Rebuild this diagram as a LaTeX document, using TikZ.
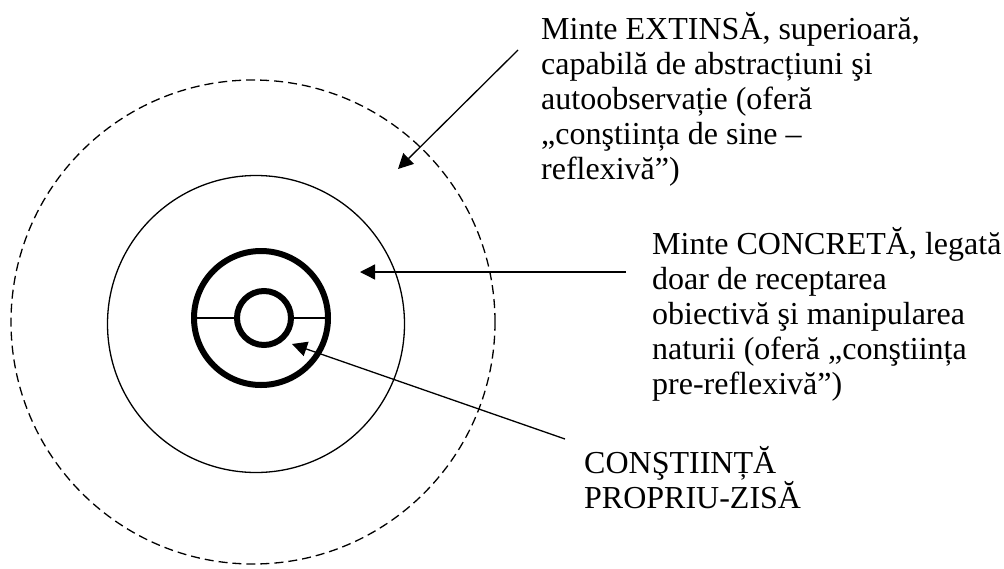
\documentclass[tikz,border=0pt]{standalone}
\usepackage{fontspec}
\setmainfont{Liberation Serif}
\usetikzlibrary{arrows.meta,positioning}
\tikzset{
  ring/.style={
    circle,
    draw=black,
    line width=1.3pt,
    inner sep=0pt
  },
  dashring/.style={ring, dash pattern=on 9pt off 5pt},
  boldring/.style={ring, line width=6pt},
  note/.style={
    anchor=north west,
    inner sep=0pt,
    align=left,
    font=\fontsize{32}{35}\selectfont
  },
  pointer/.style={-{Triangle[length=15pt,width=15pt]}, line width=1.3pt}
}
\begin{document}
\begin{tikzpicture}[x=1pt,y=-1pt]
      \useasboundingbox (0,0) rectangle (1004,568);
      % rings
      \node[dashring,minimum size=484pt] (outer) at (253,322) {};
      \node[ring,minimum size=297pt] (middle) at (256,324) {};
      \node[boldring,minimum size=134pt] (inner) at (261,318) {};
      \draw[line width=1.3pt] (inner.west) -- (inner.east);
      \node[boldring,fill=white,minimum size=54pt] (core) at (264,318) {};
      % labels
      \node[note] (extins) at (541,12) {Minte EXTINSĂ, superioară,\\capabilă de abstracțiuni şi\\autoobservație (oferă\\„conştiința de sine –\\reflexivă”)};
      \node[note] (concret) at (652,227) {Minte CONCRETĂ, legată\\doar de receptarea\\obiectivă şi manipularea\\naturii (oferă „conştiința\\pre-reflexivă”)};
      \node[note] (propriu) at (584,446) {CONŞTIINȚĂ\\PROPRIU-ZISĂ};
      % arrow ends
      \coordinate (e1) at (518,50);
      \coordinate (t1) at (398,169);
      \coordinate (e2) at (626,272);
      \coordinate (t2) at (360,272);
      \coordinate (e3) at (565,439);
      \coordinate (t3) at (292,344);
      \draw[pointer] (e1) -- (t1);
      \draw[pointer] (e2) -- (t2);
      \draw[pointer] (e3) -- (t3);
    \end{tikzpicture}
\end{document}
